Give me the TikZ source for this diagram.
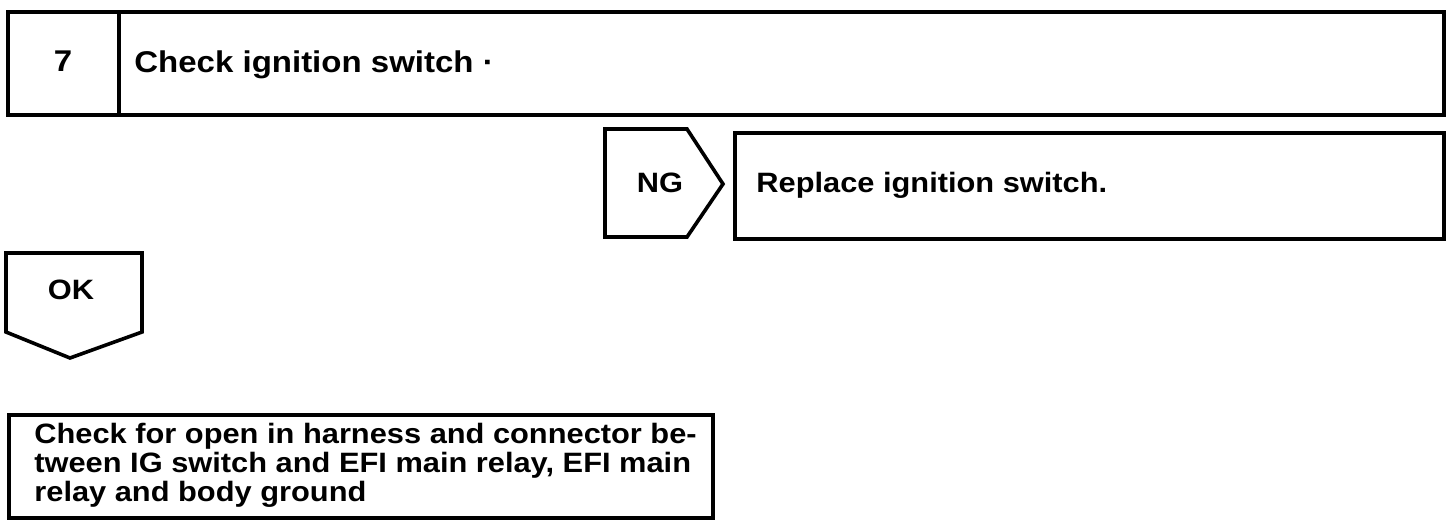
\documentclass[tikz,border=0pt]{standalone}
\usepackage{fontspec}
\setmainfont{Liberation Sans}[FakeStretch=1.1]
\begin{document}
\begin{tikzpicture}[x=0.5pt,y=-0.5pt,
  frame/.style={draw=black,line width=1.8pt,line join=miter},
  big/.style={font=\fontsize{15}{18}\selectfont\bfseries,inner sep=0pt},
  lab/.style={font=\fontsize{14}{17}\selectfont\bfseries,inner sep=0pt}]
\useasboundingbox (0,0) rectangle (1456,526);
% top step box
\node[frame,minimum width=718pt,minimum height=51.5pt,inner sep=0pt,anchor=north west] (stepbox) at (6,10) {};
\draw[frame] (119,10) -- (119,113);
\node[big] (num) at (63,61) {7};
\node[big,anchor=base west] (title) at (134,72) {Check ignition switch ·};
% NG pentagon
\draw[frame] (605,129) -- (687,129) -- (723,184) -- (687,237) -- (605,237) -- cycle;
\node[lab] (ng) at (660,183) {NG};
% replace box
\node[frame,minimum width=354.5pt,minimum height=53pt,inner sep=0pt,anchor=north west] (repl) at (733,131) {};
\node[lab,anchor=base west] (repltxt) at (756,192) {Replace ignition switch.};
% OK pentagon
\draw[frame] (6,253) -- (142,253) -- (142,332) -- (70,358) -- (6,332) -- cycle;
\node[lab] (ok) at (71,290) {OK};
% bottom box
\node[frame,minimum width=352pt,minimum height=51.5pt,inner sep=0pt,anchor=north west] (next) at (7,413) {};
\node[lab,anchor=base west] (l1) at (34,443) {Check for open in harness and connector be-};
\node[lab,anchor=base west] (l2) at (34,472) {tween IG switch and EFI main relay, EFI main};
\node[lab,anchor=base west] (l3) at (34,501) {relay and body ground};
\end{tikzpicture}
\end{document}
